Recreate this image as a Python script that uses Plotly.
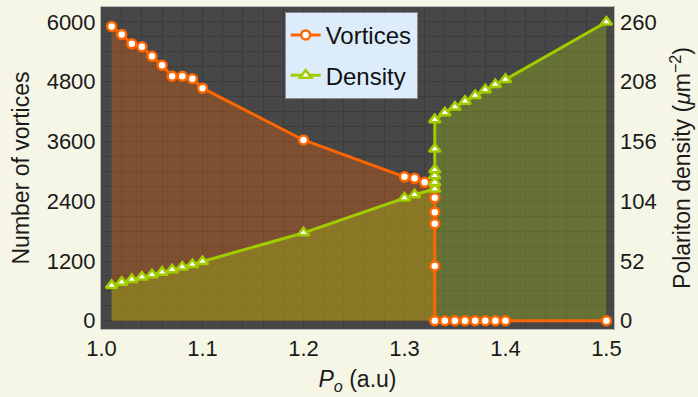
import plotly.graph_objects as go

# ---- data ----
vort_x = [1.01, 1.02, 1.03, 1.04, 1.05, 1.06, 1.07, 1.08, 1.09, 1.10,
          1.20, 1.30, 1.31, 1.32,
          1.33, 1.33, 1.33, 1.33, 1.33, 1.33,
          1.34, 1.35, 1.36, 1.37, 1.38, 1.39, 1.40, 1.50]
vort_y = [5910, 5750, 5560, 5500, 5310, 5130, 4910, 4910, 4860, 4670,
          3630, 2890, 2860, 2780,
          2700, 2470, 2180, 1950, 1100, 0,
          0, 0, 0, 0, 0, 0, 0, 0]

dens_x = [1.01, 1.02, 1.03, 1.04, 1.05, 1.06, 1.07, 1.08, 1.09, 1.10,
          1.20, 1.30, 1.31,
          1.33, 1.33, 1.33, 1.33, 1.33, 1.33,
          1.34, 1.35, 1.36, 1.37, 1.38, 1.39, 1.40, 1.50]
dens_y = [30.8, 33.6, 36.0, 38.0, 40.0, 42.3, 44.4, 46.7, 49.0, 51.6,
          76.5, 106.8, 109.7,
          114.6, 120.3, 126.1, 131.3, 149.4, 175.0,
          181.0, 186.0, 191.0, 196.0, 201.0, 205.5, 210.0, 260.0]

x_ticks = [1.0, 1.1, 1.2, 1.3, 1.4, 1.5]
y_ticks = [0, 1200, 2400, 3600, 4800, 6000]
y2_ticks = [0, 52, 104, 156, 208, 260]

ORANGE = "#ff6600"
GREEN = "#a0cc00"
FONT = "Liberation Sans, Arial, sans-serif"

fig = go.Figure()

# fills first
fig.add_trace(go.Scatter(x=vort_x, y=vort_y, mode="none", fill="tozeroy",
                         fillcolor="rgba(255,102,0,0.30)", showlegend=False,
                         hoverinfo="skip", yaxis="y"))
fig.add_trace(go.Scatter(x=dens_x, y=dens_y, mode="none", fill="tozeroy",
                         fillcolor="rgba(165,200,20,0.34)", showlegend=False,
                         hoverinfo="skip", yaxis="y2"))
# lines + markers on top
fig.add_trace(go.Scatter(x=vort_x, y=vort_y, mode="lines+markers", name="Vortices",
                         line=dict(color=ORANGE, width=3),
                         marker=dict(symbol="circle", size=9, color="white",
                                     line=dict(color=ORANGE, width=2.5)),
                         legendgroup="v", yaxis="y3"))
fig.add_trace(go.Scatter(x=dens_x, y=dens_y, mode="lines+markers", name="Density",
                         line=dict(color=GREEN, width=3),
                         marker=dict(symbol="triangle-up", size=10, color="white",
                                     line=dict(color=GREEN, width=2.5)),
                         legendgroup="d", yaxis="y4"))

yr = [-165, 6300]
y2r = [yr[0] * 260 / 6000, yr[1] * 260 / 6000]
grid = "#3c3c3c"
frame = "#b8b8b8"

fig.update_layout(
    width=698, height=397,
    margin=dict(l=101, r=84, t=7, b=68),
    paper_bgcolor="#f6f6e7",
    plot_bgcolor="#474747",
    font=dict(family=FONT, size=22, color="#1a1a1a"),
    xaxis=dict(range=[0.9995, 1.5075], tickmode="array", tickvals=x_ticks,
               ticktext=[f"{v:.1f}" for v in x_ticks],
               showgrid=True, gridcolor=grid, gridwidth=1,
               minor=dict(dtick=0.02, tick0=1.0, showgrid=True, gridcolor=grid, gridwidth=1),
               showline=True, linecolor=frame, linewidth=1, mirror=True,
               zeroline=False, ticks="", ticklabelstandoff=0,
               title=dict(text="<i>P<sub>o</sub></i> (a.u)", font=dict(size=23), standoff=10)),
    yaxis=dict(range=yr, tickmode="array", tickvals=y_ticks,
               showgrid=True, gridcolor=grid, gridwidth=1,
               minor=dict(dtick=300, tick0=0, showgrid=True, gridcolor=grid, gridwidth=1),
               showline=True, linecolor=frame, linewidth=1, mirror=True,
               zeroline=False, ticks="",
               title=dict(text="Number of vortices", font=dict(size=23), standoff=10)),
    yaxis2=dict(range=y2r, overlaying="y", side="right", tickmode="array",
                tickvals=y2_ticks, showgrid=False, zeroline=False, ticks="",
                ticklabelstandoff=5,
                title=dict(text="Polariton density (<i>μ</i>m<sup>−2</sup>)",
                           font=dict(size=23), standoff=18)),
    yaxis3=dict(range=yr, overlaying="y", visible=False),
    yaxis4=dict(range=y2r, overlaying="y", visible=False),
    legend=dict(x=0.358, y=0.985, xanchor="left", yanchor="top",
                bgcolor="#dcecfa", bordercolor="#8a8a8a", borderwidth=1,
                font=dict(size=24, color="#111111"), tracegroupgap=6,
                traceorder="grouped"),
    showlegend=True,
)

fig.write_html("out.html")
